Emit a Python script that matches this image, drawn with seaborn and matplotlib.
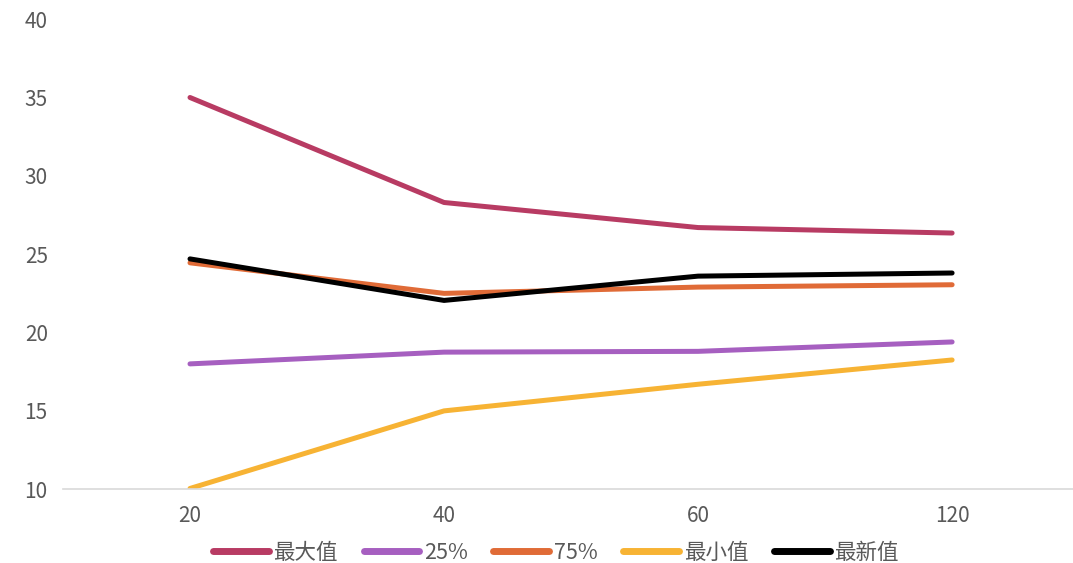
import pandas as pd
import numpy as np
import matplotlib.pyplot as plt
import seaborn as sns

#### data
periods = ['20', '40', '60', '120']
series_names = ['最大值', '25%', '75%', '最小值', '最新值']
v_max = [35.0, 28.3, 26.7, 26.35]
v_p25 = [18.0, 18.75, 18.8, 19.4]
v_p75 = [24.45, 22.5, 22.9, 23.05]
v_min = [10.05, 15.0, 16.7, 18.25]
v_last = [24.7, 22.05, 23.6, 23.8]
colors = ['#B83B63', '#A65FC0', '#E06B37', '#F7B334', '#000000']

rows = []
for name, vals in zip(series_names, [v_max, v_p25, v_p75, v_min, v_last]):
    for i, v in enumerate(vals):
        rows.append({'x': i, 'value': v, 'series': name})
df = pd.DataFrame(rows)

sns.set_theme(style='white')
plt.rcParams['font.family'] = ['Noto Sans CJK SC', 'DejaVu Sans']

fig = plt.figure(figsize=(10.73, 5.63), dpi=100)
ax = fig.add_axes([0.0587, 0.131, 0.947, 0.835])

sns.lineplot(data=df, x='x', y='value', hue='series', hue_order=series_names,
             palette=colors, linewidth=3.6, ax=ax, legend=True)
for ln in ax.get_lines():
    ln.set_solid_capstyle('round')
    ln.set_solid_joinstyle('round')

ax.set_xlim(-0.5, 3.5)
ax.set_ylim(10, 40)
ax.set_yticks([10, 15, 20, 25, 30, 35, 40])
ax.set_xticks(range(len(periods)))
ax.set_xticklabels(periods)
ax.set_xlabel('')
ax.set_ylabel('')
ax.tick_params(axis='both', colors='#595959', labelsize=15, length=0, pad=11)
for s in ['top', 'right', 'left']:
    ax.spines[s].set_visible(False)
ax.spines['bottom'].set_color('#D9D9D9')
ax.spines['bottom'].set_linewidth(1.2)

handles, labels = ax.get_legend_handles_labels()
ax.legend_.remove()
leg = fig.legend(handles, labels, loc='lower center', bbox_to_anchor=(0.518, -0.036),
                 ncol=5, frameon=False, fontsize=15.5, handlelength=2.6,
                 columnspacing=1.2, handletextpad=0.2)
for t in leg.get_texts():
    t.set_color('#595959')
for h in leg.legend_handles:
    h.set_linewidth(5)
    h.set_solid_capstyle('round')

plt.savefig('out.png', dpi=100)
